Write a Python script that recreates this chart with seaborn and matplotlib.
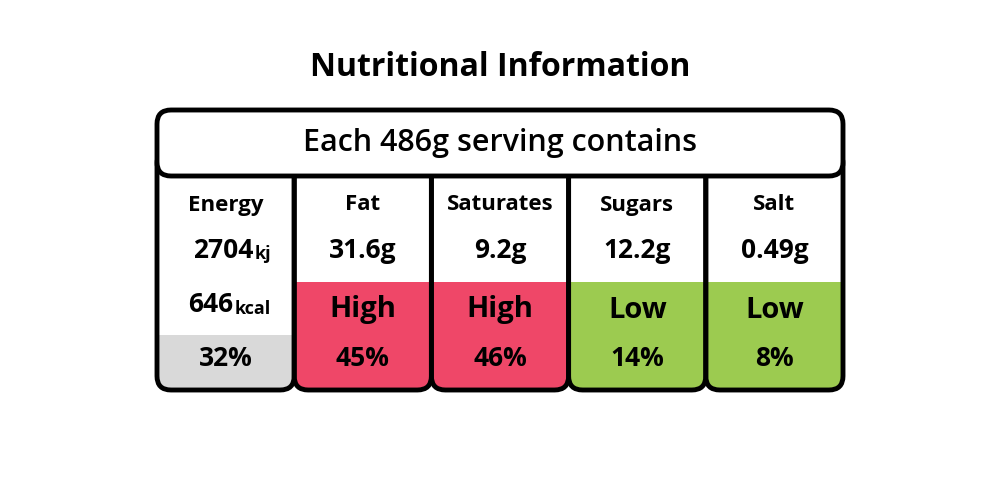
import matplotlib
matplotlib.use("Agg")
import matplotlib.pyplot as plt
import seaborn as sns
from matplotlib.patches import FancyBboxPatch, Rectangle

sns.set_theme(style="white")
plt.rcParams['font.family'] = ['Open Sans', 'DejaVu Sans']
plt.rcParams['text.color'] = 'black'

title = "Nutritional Information"
header = "Each 486g serving contains"
names = ["Energy", "Fat", "Saturates", "Sugars", "Salt"]
values = ["2704", "31.6g", "9.2g", "12.2g", "0.49g"]
levels = ["", "High", "High", "Low", "Low"]
percents = ["32%", "45%", "46%", "14%", "8%"]
colors = ["#d9d9d9", "#ef4768", "#ef4768", "#9ccb50", "#9ccb50"]

fig = plt.figure(figsize=(10, 5), dpi=100)
ax = fig.add_axes([0, 0, 1, 1])
ax.set_xlim(0, 1000); ax.set_ylim(500, 0); ax.axis("off")

ax.text(500, 67, title, ha="center", va="center", fontsize=23, fontweight="bold")

lw = 3.5
r = 14
ax.add_patch(FancyBboxPatch((157, 110), 686, 66, boxstyle=f"round,pad=0,rounding_size={r}",
                            fc="white", ec="black", lw=lw, zorder=6))
ax.text(500, 143, header, ha="center", va="center", fontsize=22, fontweight="semibold", zorder=7)

x0 = 157; w = 686 / 5
for i, n in enumerate(names):
    x = x0 + i * w
    cx = x + w / 2
    box = (x, 150)
    h = 240
    ax.add_patch(FancyBboxPatch(box, w, h, boxstyle=f"round,pad=0,rounding_size={r}",
                                fc="white", ec="none", zorder=2))
    top = 335 if i == 0 else 282
    col = FancyBboxPatch(box, w, h, boxstyle=f"round,pad=0,rounding_size={r}",
                         fc=colors[i], ec="none", zorder=3)
    ax.add_patch(col)
    col.set_clip_path(Rectangle((x, top), w, 300, transform=ax.transData))
    ax.add_patch(FancyBboxPatch(box, w, h, boxstyle=f"round,pad=0,rounding_size={r}",
                                fc="none", ec="black", lw=lw, zorder=4))
    ax.text(cx, 205, n, ha="center", va="center", fontsize=16, fontweight="bold", zorder=5)
    if i == 0:
        ax.text(cx + 28, 250, values[i], ha="right", va="center", fontsize=19, fontweight="bold", zorder=5)
        ax.text(cx + 29, 254, "kj", ha="left", va="center", fontsize=13, fontweight="bold", zorder=5)
        ax.text(cx + 8, 305, "646", ha="right", va="center", fontsize=19, fontweight="bold", zorder=5)
        ax.text(cx + 9, 309, "kcal", ha="left", va="center", fontsize=13, fontweight="bold", zorder=5)
    else:
        ax.text(cx, 250, values[i], ha="center", va="center", fontsize=19, fontweight="bold", zorder=5)
        ax.text(cx, 310, levels[i], ha="center", va="center", fontsize=21, fontweight="bold", zorder=5)
    ax.text(cx, 358, percents[i], ha="center", va="center", fontsize=19, fontweight="bold", zorder=5)

fig.savefig("out.png", dpi=100, facecolor="white")
